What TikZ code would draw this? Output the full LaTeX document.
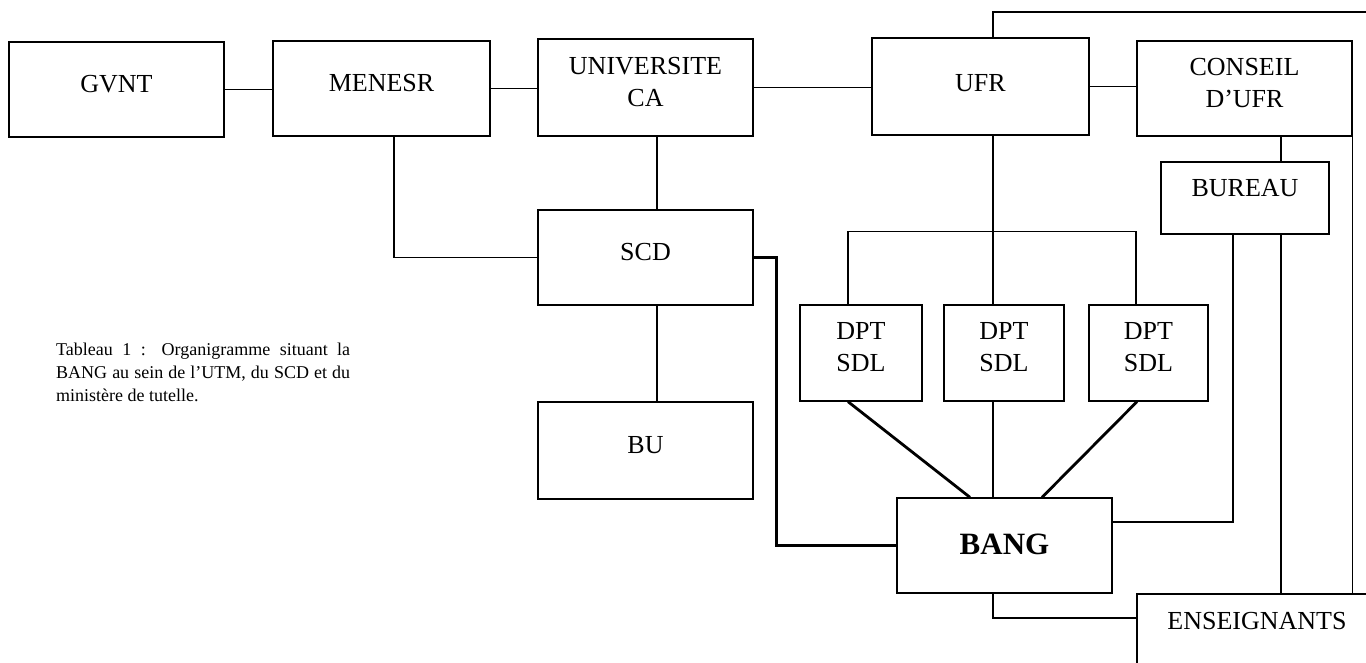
\documentclass[tikz,border=0pt]{standalone}
\usepackage{fontspec}
\setmainfont{Liberation Serif}
\begin{document}
\begin{tikzpicture}[x=1pt,y=-1pt,
  box/.style={draw, line width=1.3, inner sep=0, minimum width=#1},
  txt/.style={font=\fontsize{26}{32}\selectfont, align=center, inner sep=0},
  conn/.style={line width=1.2},
  thickc/.style={line width=2.8},
  medc/.style={line width=1.8}]
\useasboundingbox (0,0) rectangle (1366,663);
\clip (0,0) rectangle (1366,663);
\fill[white] (0,0) rectangle (1366,663);
% boxes
\node[box=215, minimum height=95, label={[txt, yshift=5.5]center:GVNT}] (gvnt) at (116.5,89.5) {};
\node[box=217, minimum height=95, label={[txt, yshift=5.5]center:MENESR}] (menesr) at (381.5,88.5) {};
\node[box=215, minimum height=97, label={[txt, yshift=5.5]center:UNIVERSITE\\CA}] (univ) at (645.5,87.5) {};
\node[box=217, minimum height=97, label={[txt, yshift=3.5]center:UFR}] (ufr) at (980.5,86.5) {};
\node[box=215, minimum height=95, label={[txt, yshift=5.5]center:CONSEIL\\D’UFR}] (conseil) at (1244.5,88.5) {};
\node[box=168, minimum height=72, label={[txt, yshift=10]center:BUREAU}] (bureau) at (1245,198) {};
\node[box=215, minimum height=95, label={[txt, yshift=5.5]center:SCD}] (scd) at (645.5,257.5) {};
\node[box=215, minimum height=97, label={[txt, yshift=5.5]center:BU}] (bu) at (645.5,450.5) {};
\node[box=122, minimum height=96, label={[txt, yshift=5.5]center:DPT\\SDL}] (dpt1) at (861,353) {};
\node[box=120, minimum height=96, label={[txt, yshift=5.5]center:DPT\\SDL}] (dpt2) at (1004,353) {};
\node[box=119, minimum height=96, label={[txt, yshift=5.5]center:DPT\\SDL}] (dpt3) at (1148.5,353) {};
\node[box=215, minimum height=95, label={[txt, font=\fontsize{31}{36}\selectfont\bfseries, yshift=1]center:BANG}] (bang) at (1004.5,545.5) {};
\node[box=263, minimum height=106, label={[txt, xshift=-11.5, yshift=26]center:ENSEIGNANTS}] (ens) at (1268.5,647) {};
% caption
\node[anchor=base west, text width=294, inner sep=0, align=justify,
  font=\fontsize{18}{23}\selectfont] (caption) at (56,355)
  {Tableau 1 : Organigramme situant la\linebreak BANG au sein de l’UTM, du SCD et du\linebreak ministère de tutelle.};
% top row connectors
\draw[conn] (gvnt.east) -- (gvnt.east -| menesr.west);
\draw[conn] (menesr.east) -- (menesr.east -| univ.west);
\draw[conn] (univ.east) -- (univ.east -| ufr.west);
\draw[conn] (ufr.east) -- (ufr.east -| conseil.west);
% left part
\draw[conn] ([xshift=12.5]menesr.south) |- (scd.west);
\draw[conn] ([xshift=11.5]univ.south) -- ([xshift=11.5]univ.south |- scd.north);
\draw[conn] ([xshift=11.5]scd.south) -- ([xshift=11.5]scd.south |- bu.north);
% UFR
\coordinate (topright) at (1370,12);
\draw[conn] ([xshift=12.5]ufr.north) |- (topright);
\draw[conn] ([xshift=12.5]ufr.south) -- ([xshift=12.5]ufr.south |- dpt2.north);
\draw[conn] ([xshift=-13]dpt1.north) -- ++(0,-73) -| ([xshift=-12.5]dpt3.north);
% conseil / bureau
\draw[conn] ([xshift=36.5]conseil.south) -- ([xshift=36.5]conseil.south |- bureau.north);
\draw[conn] ([xshift=36]bureau.south) -- ([xshift=36]bureau.south |- ens.north);
\draw[conn] (conseil.south east) -- (conseil.south east |- ens.north);
% thick links to BANG
\draw[thickc] ([xshift=-12]bureau.south) |- ([yshift=23.5]bang.east);
\draw[thickc] (scd.east) -- ++(23,0) |- (bang.west);
\draw[thickc] ([xshift=-13]dpt1.south) -- ([xshift=-34.5]bang.north);
\draw[medc] ([xshift=-11]dpt2.south) -- ([xshift=-11.5]bang.north);
\draw[thickc] ([xshift=-11.5]dpt3.south) -- ([xshift=37.5]bang.north);
\draw[medc] ([xshift=-11.5]bang.south) |- ([yshift=29]ens.west);
\end{tikzpicture}
\end{document}
